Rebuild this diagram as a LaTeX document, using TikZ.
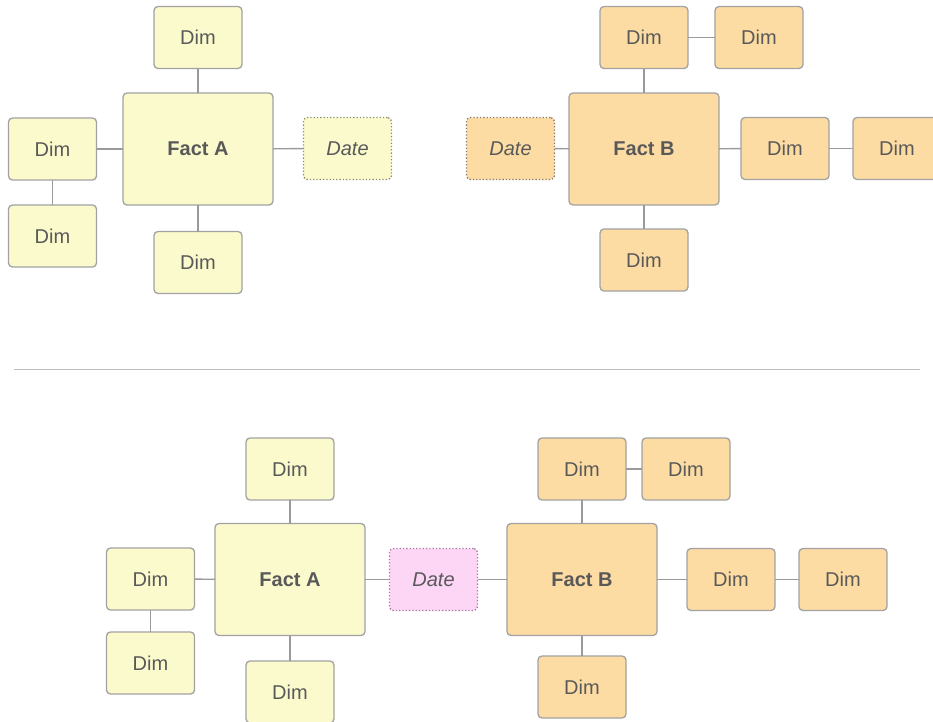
\documentclass[tikz,border=0pt]{standalone}
\usepackage{fontspec}
\setmainfont{Liberation Sans}
\usepackage{xcolor}
\definecolor{dimyellow}{HTML}{FBFACD}
\definecolor{dimorange}{HTML}{FDDCA3}
\definecolor{datepink}{HTML}{FDD6F6}
\definecolor{boxline}{HTML}{A2A2A2}
\definecolor{linkgray}{HTML}{9A9A9A}
\definecolor{textgray}{HTML}{595959}
\definecolor{pinkline}{HTML}{A67BA0}
\definecolor{yellowdot}{HTML}{8E8E6E}
\definecolor{orangedot}{HTML}{8A7A66}
\tikzset{
  card/.style={draw=boxline,line width=1.3pt,rounded corners=4pt,inner sep=0pt,outer sep=0pt,
    text=textgray,font=\fontsize{20}{23}\selectfont},
  dimbox/.style={card,minimum width=88pt,minimum height=62pt},
  factbox/.style={card,minimum width=150pt,minimum height=112pt,font=\fontsize{20}{23}\selectfont\bfseries},
  datebox/.style={dimbox,dotted,line width=1.4pt,font=\fontsize{20}{23}\selectfont\itshape},
  link/.style={draw=linkgray,line width=1.4pt},
}
\begin{document}
\begin{tikzpicture}[x=1pt,y=-1pt]
  \useasboundingbox (0,0) rectangle (933,721);
  % star A alone
  \node[factbox,fill=dimyellow] (aFact) at (198,149) {Fact A};
  \node[dimbox,fill=dimyellow] (aDimN) at (198,37.5) {Dim};
  \node[dimbox,fill=dimyellow] (aDimW) at (52.5,149) {Dim};
  \node[dimbox,fill=dimyellow] (aDimSW) at (52.5,236) {Dim};
  \node[dimbox,fill=dimyellow] (aDimS) at (198,262.5) {Dim};
  \node[datebox,fill=dimyellow,draw=yellowdot] (aDate) at (347.5,148.5) {Date};
  % star B alone
  \node[factbox,fill=dimorange] (bFact) at (644,149) {Fact B};
  \node[dimbox,fill=dimorange] (bDimN) at (644,37.5) {Dim};
  \node[dimbox,fill=dimorange] (bDimNE) at (759,37.5) {Dim};
  \node[datebox,fill=dimorange,draw=orangedot] (bDate) at (510.5,148.5) {Date};
  \node[dimbox,fill=dimorange] (bDimE) at (785,148.5) {Dim};
  \node[dimbox,fill=dimorange] (bDimEE) at (897,148.5) {Dim};
  \node[dimbox,fill=dimorange] (bDimS) at (644,260) {Dim};
  \foreach \a/\b in {aFact/aDimN,aFact/aDimW,aDimW/aDimSW,aFact/aDimS,aFact/aDate,
    bFact/bDimN,bDimN/bDimNE,bFact/bDate,bFact/bDimE,bDimE/bDimEE,bFact/bDimS}
    \draw[link] (\a) -- (\b);
  % separator
  \coordinate (sepL) at (14,369);
  \coordinate (sepR) at (920,369);
  \draw[draw=boxline!70,line width=1pt] (sepL) -- (sepR);
  % both stars sharing the date
  \node[factbox,fill=dimyellow] (cFactA) at (290,579.5) {Fact A};
  \node[dimbox,fill=dimyellow] (cDimN) at (290,469) {Dim};
  \node[dimbox,fill=dimyellow] (cDimW) at (150.5,579) {Dim};
  \node[dimbox,fill=dimyellow] (cDimSW) at (150.5,663) {Dim};
  \node[dimbox,fill=dimyellow] (cDimS) at (290,692) {Dim};
  \node[datebox,fill=datepink,draw=pinkline] (cDate) at (433.5,579.5) {Date};
  \node[factbox,fill=dimorange] (cFactB) at (582,579.5) {Fact B};
  \node[dimbox,fill=dimorange] (dDimN) at (582,469) {Dim};
  \node[dimbox,fill=dimorange] (dDimNE) at (686,469) {Dim};
  \node[dimbox,fill=dimorange] (dDimE) at (731,579.5) {Dim};
  \node[dimbox,fill=dimorange] (dDimEE) at (843,579.5) {Dim};
  \node[dimbox,fill=dimorange] (dDimS) at (582,687) {Dim};
  \foreach \a/\b in {cFactA/cDimN,cFactA/cDimW,cDimW/cDimSW,cFactA/cDimS,cFactA/cDate,
    cDate/cFactB,cFactB/dDimN,dDimN/dDimNE,cFactB/dDimE,dDimE/dDimEE,cFactB/dDimS}
    \draw[link] (\a) -- (\b);
\end{tikzpicture}
\end{document}
